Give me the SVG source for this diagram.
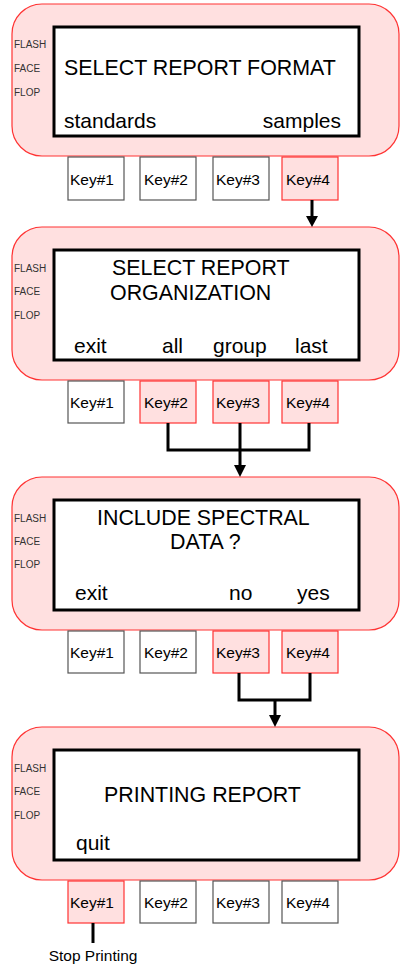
<svg xmlns="http://www.w3.org/2000/svg" width="401" height="964" viewBox="0 0 401 964">
<style>
.panel{fill:#ffe0e0;stroke:#ff3333;stroke-width:1.2}
.screen{fill:#fff;stroke:#000;stroke-width:3}
.side{font-family:"Liberation Sans",Arial,sans-serif;font-size:10px;fill:#333}
.big{font-family:"Liberation Sans",Arial,sans-serif;font-size:21.4px;fill:#000}
.soft{font-family:"Liberation Sans",Arial,sans-serif;font-size:21px;fill:#000}
.key{fill:#fff;stroke:#555;stroke-width:1.2}
.keyon{fill:#ffe0e0;stroke:#ff3333;stroke-width:1.2}
.kt{font-family:"Liberation Sans",Arial,sans-serif;font-size:15.5px;fill:#000}
.wire{fill:none;stroke:#000;stroke-width:3}
.note{font-family:"Liberation Sans",Arial,sans-serif;font-size:15.5px;fill:#000;text-anchor:middle}
</style>

<g id="screen1">
<rect class="panel" x="12" y="4" width="387" height="152" rx="30"/>
<rect class="screen" x="54" y="27" width="305" height="109"/>
<text class="side" x="14" y="48">FLASH</text>
<text class="side" x="14" y="72">FACE</text>
<text class="side" x="14" y="96">FLOP</text>
<text class="big" x="64" y="75">SELECT REPORT FORMAT</text>
<text class="soft" x="64" y="128">standards</text>
<text class="soft" x="341" y="128" text-anchor="end">samples</text>
</g>
<g id="keys1">
<rect class="key" x="68" y="157" width="56" height="43"/><text class="kt" x="70" y="185">Key#1</text>
<rect class="key" x="140" y="157" width="56" height="43"/><text class="kt" x="144" y="185">Key#2</text>
<rect class="key" x="213" y="157" width="56" height="43"/><text class="kt" x="216" y="185">Key#3</text>
<rect class="keyon" x="282" y="157" width="56" height="43"/><text class="kt" x="286" y="185">Key#4</text>
</g>

<g id="screen2">
<rect class="panel" x="12" y="227" width="387" height="153" rx="30"/>
<rect class="screen" x="54" y="250" width="305" height="110"/>
<text class="side" x="14" y="272">FLASH</text>
<text class="side" x="14" y="295">FACE</text>
<text class="side" x="14" y="319">FLOP</text>
<text class="big" x="112" y="275">SELECT REPORT</text>
<text class="big" x="110" y="300">ORGANIZATION</text>
<text class="soft" x="74" y="353">exit</text>
<text class="soft" x="162" y="353">all</text>
<text class="soft" x="213" y="353">group</text>
<text class="soft" x="295" y="353">last</text>
</g>
<g id="keys2">
<rect class="key" x="68" y="381" width="56" height="42"/><text class="kt" x="70" y="408">Key#1</text>
<rect class="keyon" x="140" y="381" width="56" height="42"/><text class="kt" x="144" y="408">Key#2</text>
<rect class="keyon" x="213" y="381" width="56" height="42"/><text class="kt" x="216" y="408">Key#3</text>
<rect class="keyon" x="282" y="381" width="56" height="42"/><text class="kt" x="286" y="408">Key#4</text>
</g>

<g id="screen3">
<rect class="panel" x="12" y="477" width="387" height="153" rx="30"/>
<rect class="screen" x="54" y="500" width="305" height="110"/>
<text class="side" x="14" y="522">FLASH</text>
<text class="side" x="14" y="545">FACE</text>
<text class="side" x="14" y="568">FLOP</text>
<text class="big" x="97" y="525">INCLUDE SPECTRAL</text>
<text class="big" x="170" y="549">DATA ?</text>
<text class="soft" x="75" y="600">exit</text>
<text class="soft" x="229" y="600">no</text>
<text class="soft" x="297" y="600">yes</text>
</g>
<g id="keys3">
<rect class="key" x="68" y="631" width="56" height="42"/><text class="kt" x="70" y="658">Key#1</text>
<rect class="key" x="140" y="631" width="56" height="42"/><text class="kt" x="144" y="658">Key#2</text>
<rect class="keyon" x="213" y="631" width="56" height="42"/><text class="kt" x="216" y="658">Key#3</text>
<rect class="keyon" x="282" y="631" width="56" height="42"/><text class="kt" x="286" y="658">Key#4</text>
</g>

<g id="screen4">
<rect class="panel" x="12" y="727" width="387" height="153" rx="30"/>
<rect class="screen" x="54" y="750" width="305" height="110"/>
<text class="side" x="14" y="772">FLASH</text>
<text class="side" x="14" y="795">FACE</text>
<text class="side" x="14" y="819">FLOP</text>
<text class="big" x="104" y="802">PRINTING REPORT</text>
<text class="soft" x="76" y="850">quit</text>
</g>
<g id="keys4">
<rect class="keyon" x="68" y="881" width="56" height="42"/><text class="kt" x="70" y="908">Key#1</text>
<rect class="key" x="140" y="881" width="56" height="42"/><text class="kt" x="144" y="908">Key#2</text>
<rect class="key" x="213" y="881" width="56" height="42"/><text class="kt" x="216" y="908">Key#3</text>
<rect class="key" x="282" y="881" width="56" height="42"/><text class="kt" x="286" y="908">Key#4</text>
</g>

<g id="connectors">
<path class="wire" d="M312,200 V218"/>
<path d="M306,216 L318,216 L312,227 Z" fill="#000"/>
<path class="wire" d="M168,423 V450 H309 V423 M240,423 V467"/>
<path d="M234,465 L246,465 L240,477 Z" fill="#000"/>
<path class="wire" d="M239,673 V700 H310 V673 M275,700 V717"/>
<path d="M269,715 L281,715 L275,727 Z" fill="#000"/>
<path class="wire" d="M93,923 V943"/>
</g>
<g id="stop-label">
<text class="note" x="93" y="961">Stop Printing</text>
</g>
</svg>
